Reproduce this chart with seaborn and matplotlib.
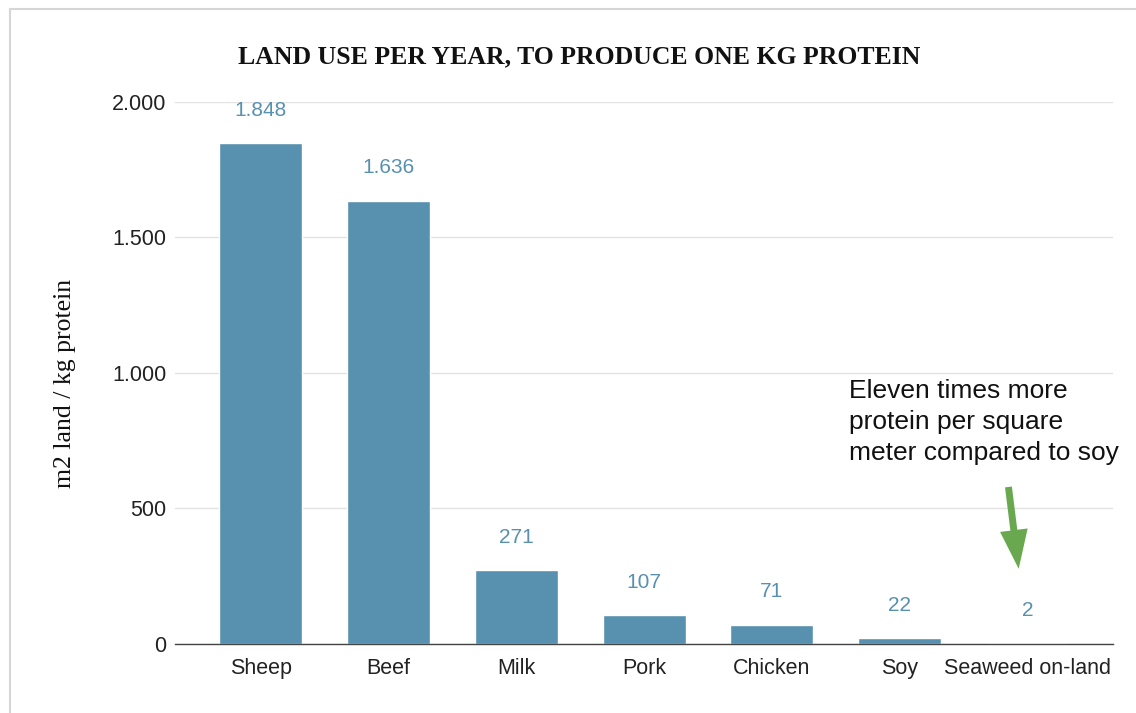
import matplotlib
matplotlib.use("Agg")
from matplotlib import pyplot as plt
from matplotlib.patches import Rectangle
import matplotlib.ticker as mticker
import pandas as pd
import seaborn as sns

# data
categories = ['Sheep', 'Beef', 'Milk', 'Pork', 'Chicken', 'Soy', 'Seaweed on-land']
land_use = [1848, 1636, 271, 107, 71, 22, 2]
y_ticks = [0, 500, 1000, 1500, 2000]

bar_color = '#5891af'
note_text = 'Eleven times more\nprotein per square\nmeter compared to soy'

df = pd.DataFrame({'food': categories, 'm2': land_use})

sns.set_style('white')
plt.rcParams['font.family'] = ['Liberation Sans', 'DejaVu Sans']

fig = plt.figure(figsize=(11.36, 7.13), dpi=100)
ax = fig.add_axes([0.154, 0.097, 0.826, 0.760])

sns.barplot(data=df, x='food', y='m2', color=bar_color, saturation=1,
            width=0.65, ax=ax)

#value labels above the bars
for i, v in enumerate(land_use):
    lbl = f'{v:,}'.replace(',', '.')
    ax.annotate(lbl, xy=(i, v), xytext=(0, 23.5), textcoords='offset points',
                ha='center', va='center', fontsize=15, color=bar_color)

ax.set_ylim(0, 2000)
ax.set_xlim(-0.67, 6.67)
ax.set_yticks(y_ticks)
ax.yaxis.set_major_formatter(
    mticker.FuncFormatter(lambda v, p: f'{int(v):,}'.replace(',', '.')))
ax.tick_params(axis='both', length=0, labelsize=15.5, colors='#222222')
ax.tick_params(axis='y', pad=6)
ax.tick_params(axis='x', pad=10)
ax.grid(axis='y', color='#e3e3e3', linewidth=1)
ax.set_axisbelow(True)
for s in ['top', 'right', 'left']:
    ax.spines[s].set_visible(False)
ax.spines['bottom'].set_color('#444444')
ax.spines['bottom'].set_linewidth(1)
ax.spines['bottom'].set_zorder(5)

ax.set_xlabel('')
ax.set_ylabel('m2 land / kg protein', family=['Liberation Serif', 'DejaVu Serif'],
              fontsize=18.5, color='#111111')
ax.yaxis.set_label_coords(-0.105, 0.48)

fig.text(0.51, 0.921, 'LAND USE PER YEAR, TO PRODUCE ONE KG PROTEIN',
         ha='center', va='center', fontsize=18.5, fontweight='bold',
         family=['Liberation Serif', 'DejaVu Serif'], color='#111111')

# side note with green arrow
ax.text(4.6, 978, note_text, ha='left', va='top', fontsize=19,
        color='#111111', linespacing=1.38)
ax.annotate('', xy=(5.93, 277), xytext=(5.85, 579),
            arrowprops=dict(arrowstyle='simple,head_width=1.0,head_length=1.4,tail_width=0.25',
                            mutation_scale=20, shrinkA=0, shrinkB=0,
                            color='#6aa84f', lw=0))

# faint frame around the picture
fig.patches.append(Rectangle((0.009, -0.01), 1.0, 0.998, transform=fig.transFigure,
                             fill=False, edgecolor='#d6d6d6', linewidth=1.5))

plt.savefig('out.png', dpi=100)
